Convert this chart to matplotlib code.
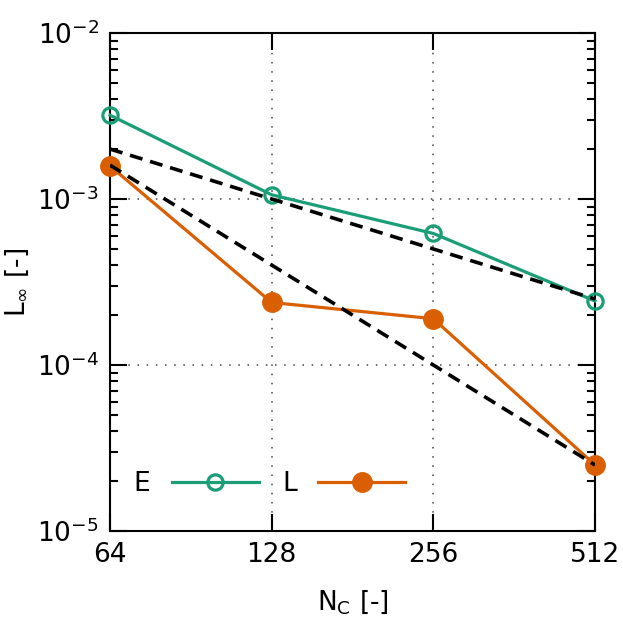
import matplotlib
matplotlib.use("Agg")
import matplotlib.pyplot as plt
from matplotlib.ticker import NullFormatter, LogLocator

# data
nc = [64, 128, 256, 512]
err_e = [3.2e-3, 1.06e-3, 6.2e-4, 2.43e-4]
err_l = [1.58e-3, 2.38e-4, 1.9e-4, 2.5e-5]
ref1_x = [64, 512]
ref1_y = [2.0e-3, 2.5e-4]      # first-order slope
ref2_x = [64, 512]
ref2_y = [1.6e-3, 2.5e-5]      # second-order slope
yticks = [1e-5, 1e-4, 1e-3, 1e-2]
ytick_labels = ["10$^{-5}$", "10$^{-4}$", "10$^{-3}$", "10$^{-2}$"]

GREEN = "#1b9e77"
ORANGE = "#d95f02"

plt.rcParams["mathtext.default"] = "regular"
plt.rcParams["font.family"] = "DejaVu Sans"

fig = plt.figure(figsize=(6.23, 6.23), dpi=100)
ax = fig.add_axes([0.1766, 0.1477, 0.955 - 0.1766, 0.947 - 0.1477])
ax.set_xscale("log", base=2)
ax.set_yscale("log")

ax.plot(nc, err_e, "-o", color=GREEN, lw=2.3, ms=11, mfc="none", mew=2.3,
        clip_on=False, zorder=3, label="E")
ax.plot(nc, err_l, "-o", color=ORANGE, lw=2.3, ms=14, clip_on=False,
        zorder=3, label="L")
ax.plot(ref1_x, ref1_y, "--", color="black", lw=2.6, dashes=(3.6, 2.2), zorder=4)
ax.plot(ref2_x, ref2_y, "--", color="black", lw=2.6, dashes=(3.6, 2.2), zorder=4)

ax.set_xlim(64, 512)
ax.set_ylim(1e-5, 1e-2)
ax.set_xticks(nc)
ax.set_xticklabels([str(v) for v in nc])
ax.xaxis.set_minor_formatter(NullFormatter())
ax.xaxis.set_minor_locator(LogLocator(base=2, subs=[]))
ax.set_yticks(yticks)
ax.set_yticklabels(ytick_labels)
ax.yaxis.set_minor_locator(LogLocator(base=10, subs=range(2, 10)))
ax.yaxis.set_minor_formatter(NullFormatter())

ax.tick_params(which="both", direction="in", top=True, right=True,
               width=1.5, labelsize=19, pad=8)
ax.tick_params(which="major", length=12)
ax.tick_params(which="minor", length=6)
for s in ax.spines.values():
    s.set_linewidth(1.5)

ax.grid(True, which="major", ls=(0, (1, 5)), color="#444444", lw=1.1)

ax.set_xlabel("N$_C$ [-]", fontsize=19, labelpad=14)
ax.set_ylabel("L$_\\infty$ [-]", fontsize=19, labelpad=4)

ax.legend(loc="lower left", bbox_to_anchor=(0.0, 0.02), ncol=2, frameon=False,
          markerfirst=False, fontsize=19, handlelength=3.3,
          handletextpad=0.8, columnspacing=0.9)

fig.savefig("out.png", dpi=100)
